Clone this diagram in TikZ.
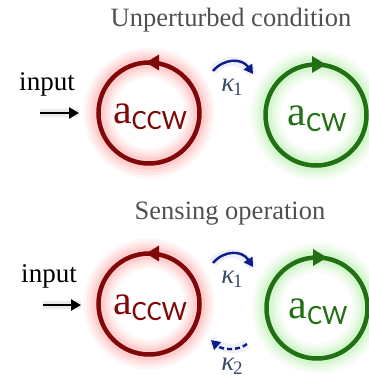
\documentclass[tikz,border=0pt]{standalone}
\usepackage{fontspec}
\setmainfont{Liberation Serif}
\newfontfamily\carl{Carlito}
\usetikzlibrary{arrows.meta}
\definecolor{ringred}{RGB}{128,8,8}
\definecolor{ringgreen}{RGB}{34,112,20}
\definecolor{glowred}{RGB}{255,60,60}
\definecolor{glowgreen}{RGB}{90,220,70}
\definecolor{kapblue}{RGB}{12,28,140}
\definecolor{kaptext}{RGB}{58,72,105}
\definecolor{titlegray}{RGB}{80,80,80}
\tikzset{
  ring/.style={circle, minimum size=101pt, inner sep=0pt, outer sep=0pt, line width=4.5pt},
  redring/.style={ring, draw=ringred},
  greenring/.style={ring, draw=ringgreen},
  title/.style={text=titlegray, font=\fontsize{26.5}{30}\selectfont, inner sep=0pt},
  inlabel/.style={text=black, font=\fontsize{27}{30}\selectfont, inner sep=0pt},
  inarrow/.style={line width=2.6pt, black, -{Triangle[length=10pt,width=11pt]}},
  inshadow/.style={line width=8pt, black, opacity=0.08},
  kap/.style={line width=2.4pt, kapblue, -{Triangle[length=9pt,width=10pt]}},
  kapglow/.style={line width=9pt, kapblue, opacity=0.07},
  kaplabel/.style={text=kaptext, inner sep=0pt},
}
\newcommand{\modeccw}{{\fontsize{42}{42}\selectfont a}\raisebox{-6pt}{\carl\fontsize{28}{28}\selectfont CCW}}
\newcommand{\modecw}{{\fontsize{42}{42}\selectfont a}\raisebox{-6pt}{\carl\fontsize{28}{28}\selectfont CW}}
\newcommand{\kapsym}[1]{{\fontsize{27}{27}\selectfont\itshape κ}\kern-1pt\raisebox{-4pt}{\fontsize{19}{19}\selectfont #1}}
\begin{document}
\begin{tikzpicture}[x=1pt,y=-1pt]
\useasboundingbox (0,0) rectangle (368,379);
% glows
\foreach \cx/\cy/\col in {149/113/glowred, 149/304/glowred, 316/115/glowgreen, 317/308/glowgreen}{
  \foreach \w/\o in {30/0.05, 24/0.06, 18/0.08, 12/0.1}{
    \draw[line width=\w pt, \col, opacity=\o] (\cx,\cy) circle (50.5);
  }
}
% titles
\node[title] (t1) at (231,20) {Unperturbed condition};
\node[title] (t2) at (230,214) {Sensing operation};
% rings
\node[redring] (ccw1) at (149,113) {};
\node[greenring] (cw1) at (316,115) {};
\node[redring] (ccw2) at (149,304) {};
\node[greenring] (cw2) at (317,308) {};
% ring arrowheads
\foreach \n in {ccw1,ccw2}{
  \fill[ringred] ([xshift=-3pt]\n.north) -- ++(13,-8) -- ++(0,16) -- cycle;
}
\foreach \n in {cw1,cw2}{
  \fill[ringgreen] ([xshift=10pt]\n.north) -- ++(-14,-8.5) -- ++(0,17) -- cycle;
}
% mode labels
\node[text=ringred, inner sep=0pt] (l1) at (150,117) {\modeccw};
\node[text=ringgreen, inner sep=0pt] (l2) at (317,119) {\modecw};
\node[text=ringred, inner sep=0pt] (l3) at (150,308) {\modeccw};
\node[text=ringgreen, inner sep=0pt] (l4) at (318,312) {\modecw};
% input
\node[inlabel] (in1) at (47,84) {input};
\node[inlabel] (in2) at (49,276) {input};
\coordinate (i1s) at (40,113); \coordinate (i1e) at (79,113);
\coordinate (i2s) at (43,305); \coordinate (i2e) at (81,305);
\draw[inshadow] (i1s) -- (i1e);
\draw[inshadow] (i2s) -- (i2e);
\draw[inarrow] (i1s) -- (i1e);
\draw[inarrow] (i2s) -- (i2e);
% kappa arrows
\coordinate (k1s) at (213,71); \coordinate (k1e) at (253,74);
\coordinate (k3s) at (213,263); \coordinate (k3e) at (253,267);
\coordinate (k2s) at (247,344); \coordinate (k2e) at (211,340);
\draw[kapglow] (k1s) .. controls (224,58) and (242,58) .. (k1e);
\draw[kapglow] (k3s) .. controls (224,250) and (242,250) .. (k3e);
\draw[kapglow] (k2s) .. controls (238,351) and (222,350) .. (k2e);
\draw[kap] (k1s) .. controls (224,58) and (242,58) .. (k1e);
\draw[kap] (k3s) .. controls (224,250) and (242,250) .. (k3e);
\draw[kap, dash pattern=on 5pt off 3pt] (k2s) .. controls (238,351) and (222,350) .. (k2e);
\node[kaplabel] (kl1) at (232,87) {\kapsym{1}};
\node[kaplabel] (kl3) at (232,279) {\kapsym{1}};
\node[kaplabel] (kl2) at (232,366) {\kapsym{2}};
\end{tikzpicture}
\end{document}
